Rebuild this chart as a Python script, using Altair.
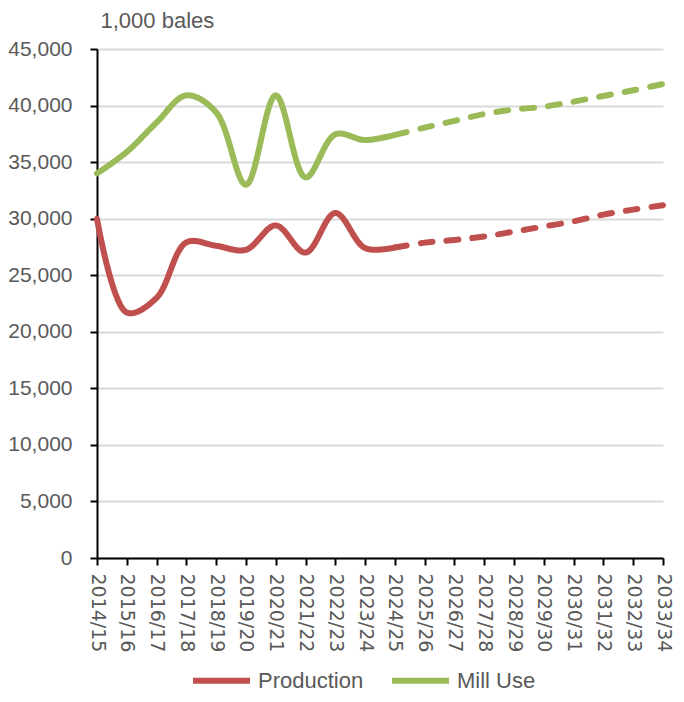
import altair as alt
import pandas as pd

seasons = ["2014/15", "2015/16", "2016/17", "2017/18", "2018/19", "2019/20", "2020/21",
           "2021/22", "2022/23", "2023/24", "2024/25", "2025/26", "2026/27", "2027/28",
           "2028/29", "2029/30", "2030/31", "2031/32", "2032/33", "2033/34"]
production = [30000, 21700, 23000, 27900, 27600, 27250, 29400, 27000, 30500, 27400,
              27450, 27880, 28120, 28420, 28860, 29310, 29760, 30360, 30800, 31190]
mill_use = [34000, 35900, 38500, 40900, 39400, 33000, 40900, 33650, 37450, 36950,
            37400, 38050, 38650, 39250, 39650, 39900, 40350, 40850, 41350, 41900]
series_names = ["Production", "Mill Use"]
series_colors = ["#C0504D", "#9BBB59"]
last_actual = 10  # index of 2024/25, where the projection starts

rows = []
for name, vals in zip(series_names, [production, mill_use]):
    for i, (s, v) in enumerate(zip(seasons, vals)):
        if i <= last_actual:
            rows.append({"season": s, "value": v, "series": name, "seg": "actual", "order": i})
        if i >= last_actual:
            rows.append({"season": s, "value": v, "series": name, "seg": "projected", "order": i})
df = pd.DataFrame(rows)

TEXT = "#595959"

chart = alt.Chart(df).mark_line(
    strokeWidth=6, interpolate="catmull-rom", strokeCap="round"
).encode(
    x=alt.X("season:N", sort=seasons,
            scale=alt.Scale(type="point", padding=0),
            axis=alt.Axis(title=None, labelAngle=90, labelFont="DejaVu Sans", labelFontSize=19,
                          labelColor=TEXT, domainColor="black", domainWidth=2,
                          tickColor="black", tickWidth=2, tickSize=7, labelPadding=8,
                          grid=False, labelOverlap=False)),
    y=alt.Y("value:Q", scale=alt.Scale(domain=[0, 45000], nice=False),
            axis=alt.Axis(title="1,000 bales", titleAngle=0, titleAlign="left",
                          titleBaseline="alphabetic", titleX=3, titleY=-22,
                          titleFont="Liberation Sans", titleFontSize=22, titleFontWeight="normal",
                          titleColor=TEXT,
                          values=list(range(0, 45001, 5000)), format=",d",
                          labelFont="Liberation Sans", labelFontSize=21, labelColor=TEXT,
                          domainColor="black", domainWidth=2,
                          tickColor="black", tickWidth=2, tickSize=7, labelPadding=18,
                          gridColor="#d9d9d9", gridWidth=2)),
    color=alt.Color("series:N", sort=series_names,
                    scale=alt.Scale(domain=series_names, range=series_colors),
                    legend=alt.Legend(title=None, orient="none", direction="horizontal",
                                      legendX=93, legendY=600, symbolType="stroke",
                                      symbolSize=3249, symbolStrokeWidth=6,
                                      labelFont="Liberation Sans", labelFontSize=22,
                                      labelColor=TEXT, labelOffset=5, columnPadding=16,
                                      padding=0)),
    strokeDash=alt.StrokeDash("seg:N",
                              scale=alt.Scale(domain=["actual", "projected"],
                                              range=[[1, 0], [12, 14]]),
                              legend=None),
    detail="seg:N",
    order="order:Q",
).properties(
    width=566, height=509,
    autosize=alt.AutoSizeParams(type="none"),
    padding={"left": 89, "top": 41, "right": 13, "bottom": 136},
).configure_view(stroke=None)

chart.save("out.html", embed_options={"renderer": "svg", "actions": False})
